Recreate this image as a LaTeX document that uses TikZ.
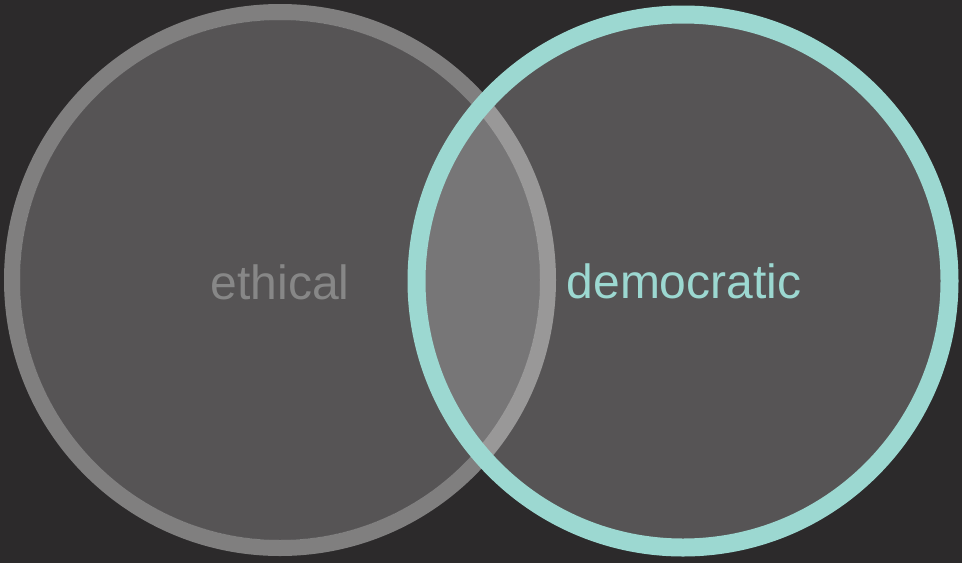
\documentclass[tikz,border=0pt]{standalone}
\usepackage{fontspec}
\setmainfont{Liberation Sans}
\definecolor{bgc}{RGB}{44,42,43}
\definecolor{tealring}{RGB}{156,216,209}
\definecolor{ethgray}{RGB}{135,135,135}
\begin{document}
\begin{tikzpicture}[x=1pt,y=-1pt,
  fillc/.style={fill=white,fill opacity=0.2},
  lefttext/.style={text=ethgray,font=\fontsize{48}{50}\selectfont,anchor=base},
  righttext/.style={text=tealring,font=\fontsize{48}{50}\selectfont,anchor=base}]
\fill[bgc] (0,0) rectangle (962,563);
\useasboundingbox (0,0) rectangle (962,563);
\coordinate (lc) at (280,280);
\coordinate (rc) at (683,281);
% left circle
\fill[fillc] (lc) circle[radius=260];
\draw[white,draw opacity=0.4,line width=16] (lc) circle[radius=268];
% right circle
\fill[fillc] (rc) circle[radius=258];
\draw[tealring,line width=18] (rc) circle[radius=266.5];
\node[lefttext] (eth) at (280,299.5) {ethical};
\node[righttext] (dem) at (684,298.5) {democratic};
\end{tikzpicture}
\end{document}
